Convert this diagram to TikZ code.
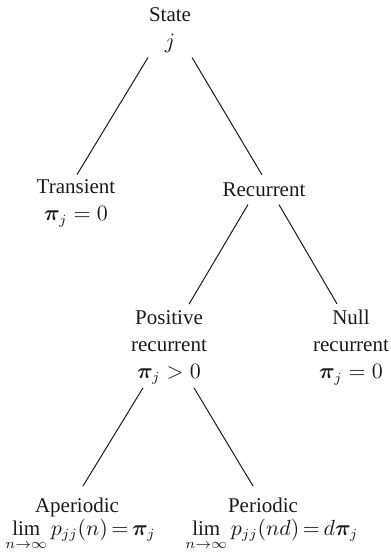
\documentclass[tikz,border=0pt]{standalone}
\usepackage{amsmath}
\usepackage{bm}
\usepackage{fontspec}
\setmainfont{Liberation Serif}
\usepackage{tikz}
\usetikzlibrary{calc}
\definecolor{ink}{HTML}{1A1A1A}
\tikzset{
  lbl/.style={align=center,inner sep=0pt,text=ink,
              font=\fontsize{10.5}{13.5}\selectfont},
  limlbl/.style={inner sep=0pt,text=ink,anchor=base west,
                 font=\fontsize{10.5}{13.5}\selectfont},
  branch/.style={draw=ink,line width=0.5pt}
}

\begin{document}
\begin{tikzpicture}[x=0.5pt,y=-0.5pt]
    \useasboundingbox (0,0) rectangle (391,553);

    % classes of a state
    \node[lbl] (state) at (170,30) {State\\ $j$};
    \node[lbl] (transient) at (76,203.5) {Transient\\ $\bm{\pi}_j = 0$};
    \node[lbl,anchor=base] (recurrent) at (264,196) {Recurrent};
    \node[lbl] (posrec) at (169,347.5)
      {Positive\\ recurrent\\ $\bm{\pi}_j > 0$};
    \node[lbl] (nullrec) at (351,347.5)
      {Null\\ recurrent\\ $\bm{\pi}_j = 0$};
    \node[lbl,anchor=base] (aperiodic) at (77,512) {Aperiodic};
    \node[limlbl] (aperlim) at (5,535)
      {$\thickmuskip=3mu \lim\limits_{n\to\infty} p_{jj}(n) = \bm{\pi}_j$};
    \node[lbl,anchor=base] (periodic) at (263,512) {Periodic};
    \node[limlbl] (perlim) at (185,535)
      {$\thickmuskip=3mu \lim\limits_{n\to\infty} p_{jj}(nd) = d\bm{\pi}_j$};

    % branches
    \draw[branch] ($(state.south)+(-22,4.5)$) -- ($(transient.north)+(1,-5)$);
    \draw[branch] ($(state.south)+(22,4.5)$) -- ($(recurrent.north)+(-2,-7)$);
    \draw[branch] ($(recurrent.south)+(-16,8)$) -- ($(posrec.north)+(20,-6)$);
    \draw[branch] ($(recurrent.south)+(15,8)$) -- ($(nullrec.north)+(-14,-6)$);
    \draw[branch] ($(posrec.south)+(-26,3)$) -- ($(aperiodic.north)+(6,-11)$);
    \draw[branch] ($(posrec.south)+(25,3)$) -- ($(periodic.north)+(-10,-11)$);
\end{tikzpicture}
\end{document}
